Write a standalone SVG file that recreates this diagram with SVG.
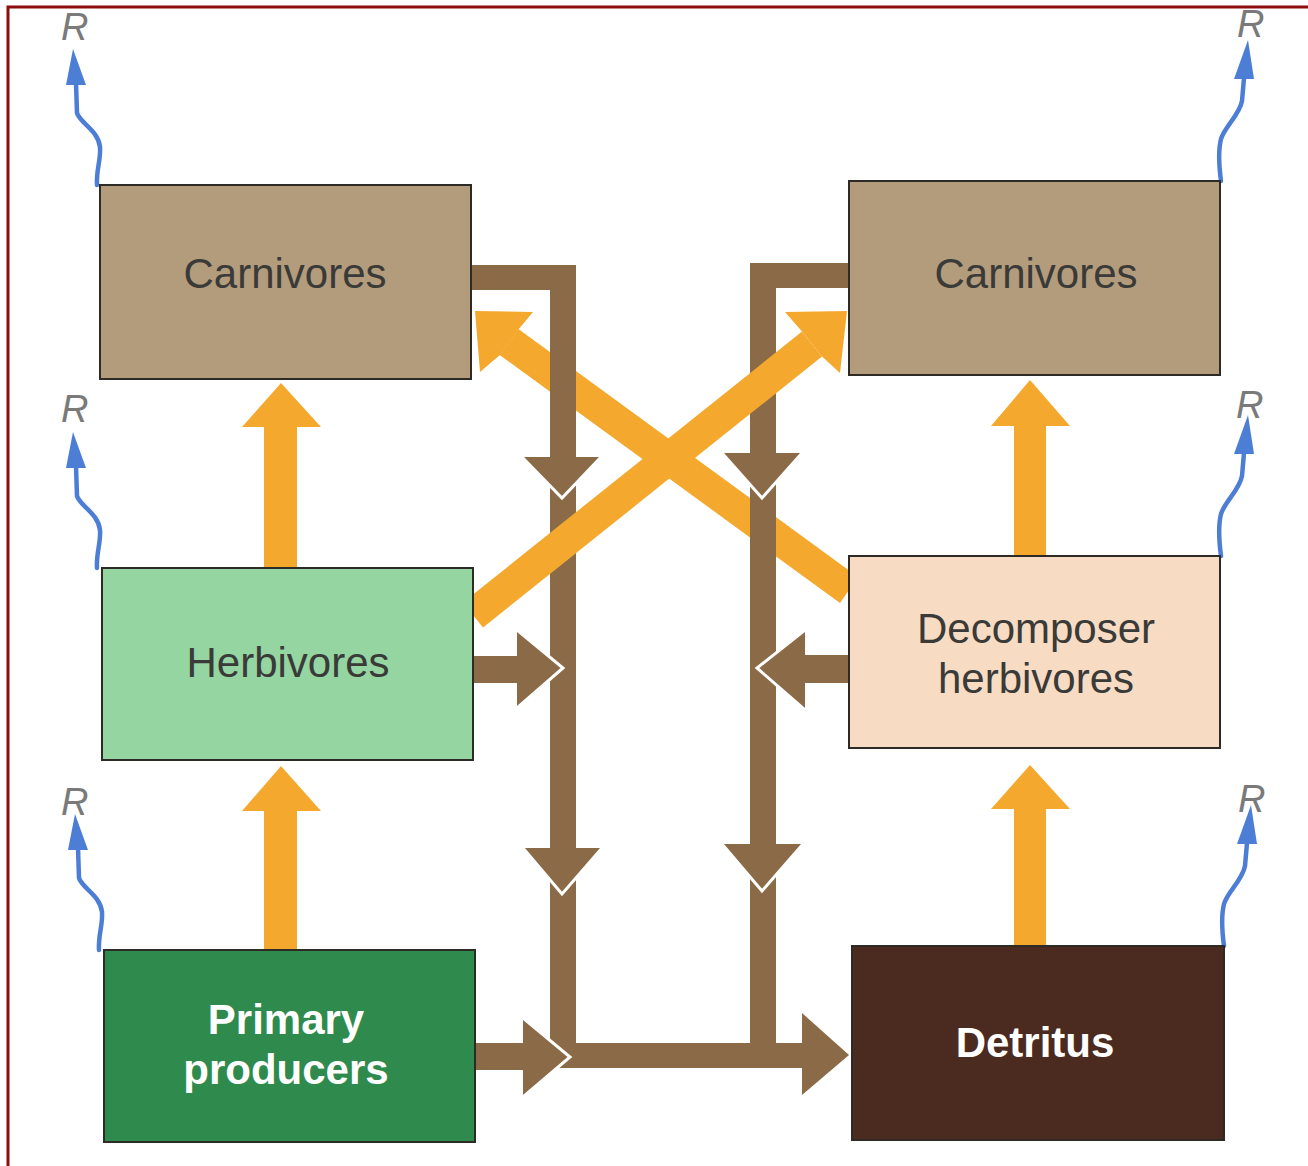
<svg xmlns="http://www.w3.org/2000/svg" width="1308" height="1166" viewBox="0 0 1308 1166">
<style>
.box{stroke:#2e2a26;stroke-width:2}
.lbl{font-family:"Liberation Sans",Arial,sans-serif;font-size:42px;fill:#3a3a38;text-anchor:middle}
.blbl{font-family:"Liberation Sans",Arial,sans-serif;font-size:42px;font-weight:bold;fill:#ffffff;text-anchor:middle}
.r{font-family:"Liberation Sans",Arial,sans-serif;font-size:38px;font-style:italic;fill:#7a7a7a;}
.or{fill:#f4a92e}
.br{fill:#8b6b47}
.wl{fill:none;stroke:#ffffff;stroke-width:3;stroke-linejoin:miter}
.wave{fill:none;stroke:#4d7ed6;stroke-width:4.5;stroke-linecap:round}
.wh{fill:#4d7ed6}
</style>
<defs>
<g id="waveL"><path class="wave" d="M-3,0 C-4,-15 1,-25 0,-38 C-2,-55 -20,-62 -23,-72 L-24,-102"/><polygon class="wh" points="-27,-136 -34,-100 -14,-100"/></g>
<g id="waveR"><path class="wave" d="M0,0 C-2,-15 -3,-30 0,-42 C4,-55 18,-65 21,-80 L23,-103"/><polygon class="wh" points="27,-141 13,-102 33,-102"/></g>
</defs>
<rect width="1308" height="1166" fill="#ffffff"/>
<g id="frame" fill="none" stroke="#8b0d0d" stroke-width="3"><path d="M8,1166 L8,7 L1308,7"/></g>

<g id="connectors">
  <!-- orange diagonal from decomposer herbivores to left carnivores (under brown) -->
  <polygon class="or" points="858,577 518.4,329 499.6,355 840,603"/>
  <polygon class="or" points="475,311 533,312 518,330 500,355 480,372"/>

  <!-- brown left channel -->
  <polygon class="br" points="471,265 576,265 576,1068 550,1068 550,290 471,290"/>
  <!-- brown right channel -->
  <polygon class="br" points="849,263 750,263 750,1043 805,1043 805,1068 550,1068 550,1043 776,1043 776,288 849,288"/>
  <!-- herbivores -> channel -->
  <rect class="br" x="473" y="656" width="48" height="27"/>
  <polygon class="br" points="517,630 563,668 517,708"/>
  <polyline class="wl" points="517,630 563,668 517,708"/>
  <!-- primary producers -> channel -->
  <rect class="br" x="475" y="1043" width="52" height="27"/>
  <polygon class="br" points="523,1018 570,1057 523,1097"/>
  <polyline class="wl" points="523,1018 570,1057 523,1097"/>
  <!-- decomposer herbivores -> channel -->
  <rect class="br" x="801" y="655" width="50" height="28"/>
  <polygon class="br" points="805,630 757,668 805,710"/>
  <polyline class="wl" points="805,630 757,668 805,710"/>
  <!-- down arrowheads -->
  <polygon class="br" points="522,457 601,457 562,498"/>
  <polyline class="wl" points="522,457 562,498 601,457"/>
  <polygon class="br" points="523,848 602,848 562,894"/>
  <polyline class="wl" points="523,848 562,894 602,848"/>
  <polygon class="br" points="722,453 802,453 762,498"/>
  <polyline class="wl" points="722,453 762,498 802,453"/>
  <polygon class="br" points="722,844 803,844 762,891"/>
  <polyline class="wl" points="722,844 762,891 803,844"/>
  <!-- to detritus -->
  <polygon class="br" points="802,1013 849,1055 802,1095"/>

  <!-- orange diagonal herbivores -> right carnivores (over brown) -->
  <polygon class="or" points="463,602.5 802,331.5 822,356.5 483,627.5"/>
  <polygon class="or" points="847,311 785,312 802,331.5 822,356.5 840,373"/>

  <!-- orange vertical arrows -->
  <rect class="or" x="264" y="424" width="33" height="146"/>
  <polygon class="or" points="242,427 281,383 321,427"/>
  <rect class="or" x="264" y="808" width="33" height="144"/>
  <polygon class="or" points="242,811 281,766 321,811"/>
  <rect class="or" x="1014" y="423" width="32" height="135"/>
  <polygon class="or" points="991,426 1030,380 1070,426"/>
  <rect class="or" x="1014" y="806" width="32" height="142"/>
  <polygon class="or" points="991,809 1030,765 1070,809"/>

  <!-- respiration arrows -->
  <use href="#waveL" x="100" y="185"/>
  <use href="#waveL" x="100" y="568"/>
  <use href="#waveL" x="102" y="950"/>
  <use href="#waveR" x="1221" y="181"/>
  <use href="#waveR" x="1221" y="556"/>
  <use href="#waveR" x="1224" y="946"/>
</g>

<g id="r-labels">
  <text class="r" x="61" y="40">R</text>
  <text class="r" x="61" y="422">R</text>
  <text class="r" x="61" y="815">R</text>
  <text class="r" x="1237" y="37">R</text>
  <text class="r" x="1236" y="418">R</text>
  <text class="r" x="1238" y="812">R</text>
</g>

<g id="carnivores-left">
  <rect class="box" x="100" y="185" width="371" height="194" fill="#b39c7c"/>
  <text class="lbl" x="285" y="288">Carnivores</text>
</g>
<g id="carnivores-right">
  <rect class="box" x="849" y="181" width="371" height="194" fill="#b39c7c"/>
  <text class="lbl" x="1036" y="288">Carnivores</text>
</g>
<g id="herbivores">
  <rect class="box" x="102" y="568" width="371" height="192" fill="#94d5a1"/>
  <text class="lbl" x="288" y="677">Herbivores</text>
</g>
<g id="decomposer-herbivores">
  <rect class="box" x="849" y="556" width="371" height="192" fill="#f7dcc3"/>
  <text class="lbl" x="1036" y="643">Decomposer</text>
  <text class="lbl" x="1036" y="693">herbivores</text>
</g>
<g id="primary-producers">
  <rect class="box" x="104" y="950" width="371" height="192" fill="#2f8a4d"/>
  <text class="blbl" x="286" y="1034">Primary</text>
  <text class="blbl" x="286" y="1084">producers</text>
</g>
<g id="detritus">
  <rect class="box" x="852" y="946" width="372" height="194" fill="#4b2b20"/>
  <text class="blbl" x="1035" y="1057">Detritus</text>
</g>
</svg>
